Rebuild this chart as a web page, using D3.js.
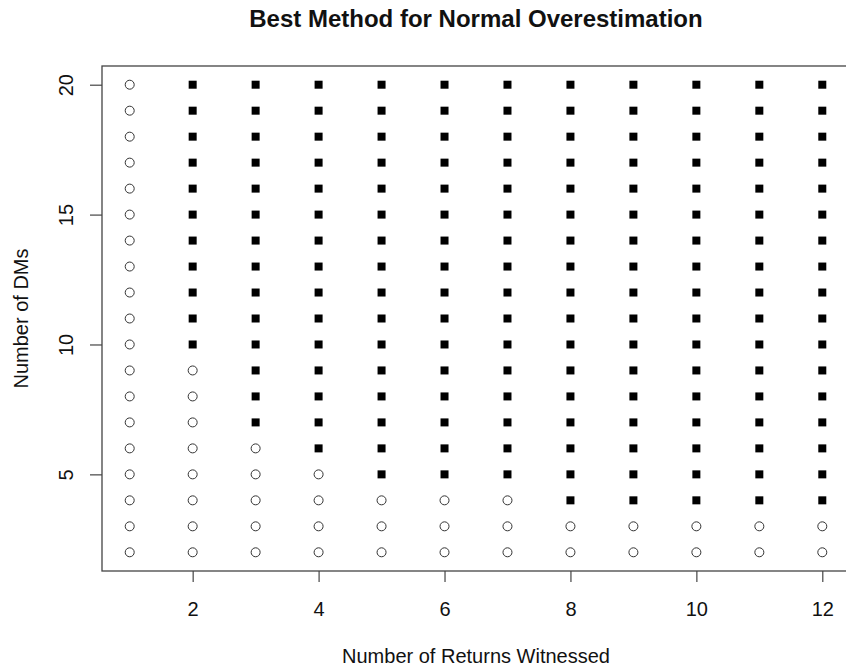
<!DOCTYPE html>
<html>
<head>
<meta charset="utf-8">
<script src="https://cdn.jsdelivr.net/npm/d3@7"></script>
<style>
  html, body { margin: 0; padding: 0; background: #fff; }
  svg { display: block; font-family: "Liberation Sans", Arial, sans-serif; }
</style>
</head>
<body>
<svg id="chart" width="846" height="671"></svg>
<script>
// Number of returns witnessed (x) and number of decision makers (y)
const returnsWitnessed = [1, 2, 3, 4, 5, 6, 7, 8, 9, 10, 11, 12];
const numDMs = [2, 3, 4, 5, 6, 7, 8, 9, 10, 11, 12, 13, 14, 15, 16, 17, 18, 19, 20];
// Smallest number of DMs at which method B (filled square) is best, per x; null = never
const methodBFrom = [null, 10, 7, 6, 5, 5, 5, 4, 4, 4, 4, 4];
const xTicks = [2, 4, 6, 8, 10, 12];
const yTicks = [5, 10, 15, 20];

const chartTitle = "Best Method for Normal Overestimation";
const xTitle = "Number of Returns Witnessed";
const yTitle = "Number of DMs";

const svg = d3.select("#chart");
const plot = { left: 102, right: 850, top: 66, bottom: 571 };

// R-style 4% padding on both ends of each axis
function padded(ext) {
  const d = (ext[1] - ext[0]) * 0.04;
  return [ext[0] - d, ext[1] + d];
}
const x = d3.scaleLinear().domain(padded(d3.extent(returnsWitnessed))).range([plot.left, plot.right]);
const y = d3.scaleLinear().domain(padded(d3.extent(numDMs))).range([plot.bottom, plot.top]);

// grid of points
const cells = [];
returnsWitnessed.forEach((rx, i) => {
  numDMs.forEach(dy => {
    const b = methodBFrom[i] !== null && dy >= methodBFrom[i];
    cells.push({ x: rx, y: dy, b });
  });
});

const g = svg.append("g");
const sq = 8;
g.selectAll("rect.pt").data(cells.filter(c => c.b)).join("rect")
  .attr("class", "pt")
  .attr("x", d => x(d.x) - sq / 2)
  .attr("y", d => y(d.y) - sq / 2)
  .attr("width", sq).attr("height", sq)
  .attr("fill", "#000");
g.selectAll("circle.pt").data(cells.filter(c => !c.b)).join("circle")
  .attr("class", "pt")
  .attr("cx", d => x(d.x))
  .attr("cy", d => y(d.y))
  .attr("r", 4.5)
  .attr("fill", "none")
  .attr("stroke", "#333")
  .attr("stroke-width", 1);

// plot frame
svg.append("rect")
  .attr("x", plot.left).attr("y", plot.top)
  .attr("width", plot.right - plot.left).attr("height", plot.bottom - plot.top)
  .attr("fill", "none").attr("stroke", "#444").attr("stroke-width", 1.3);

const font = "Liberation Sans, Arial, sans-serif";

// axes
const xAxis = svg.append("g")
  .attr("transform", `translate(0,${plot.bottom})`)
  .call(d3.axisBottom(x).tickValues(xTicks).tickSize(11).tickFormat(d3.format("d")));
xAxis.select(".domain").remove();
xAxis.selectAll("line").attr("stroke", "#444").attr("stroke-width", 1.2);
xAxis.selectAll("text").attr("font-size", 20).attr("fill", "#111")
  .attr("font-family", font)
  .attr("dy", 0).attr("y", 45);

const yAxis = svg.append("g")
  .attr("transform", `translate(${plot.left},0)`)
  .call(d3.axisLeft(y).tickValues(yTicks).tickSize(12).tickFormat(d3.format("d")));
yAxis.select(".domain").remove();
yAxis.selectAll("line").attr("stroke", "#444").attr("stroke-width", 1.2);
yAxis.selectAll("text")
  .attr("font-size", 20).attr("fill", "#111")
  .attr("font-family", font)
  .attr("text-anchor", "middle")
  .attr("dy", 0)
  .attr("x", 0)
  .attr("y", -29)
  .attr("transform", "rotate(-90)");

// titles
svg.append("text")
  .attr("x", (plot.left + plot.right) / 2).attr("y", 27)
  .attr("text-anchor", "middle")
  .attr("font-size", 24).attr("font-weight", "bold").attr("fill", "#111")
  .text(chartTitle);

svg.append("text")
  .attr("x", (plot.left + plot.right) / 2).attr("y", 663)
  .attr("text-anchor", "middle")
  .attr("font-size", 20).attr("fill", "#111")
  .text(xTitle);

svg.append("text")
  .attr("transform", `translate(28,${(plot.top + plot.bottom) / 2}) rotate(-90)`)
  .attr("text-anchor", "middle")
  .attr("font-size", 20).attr("fill", "#111")
  .text(yTitle);
</script>
</body>
</html>
